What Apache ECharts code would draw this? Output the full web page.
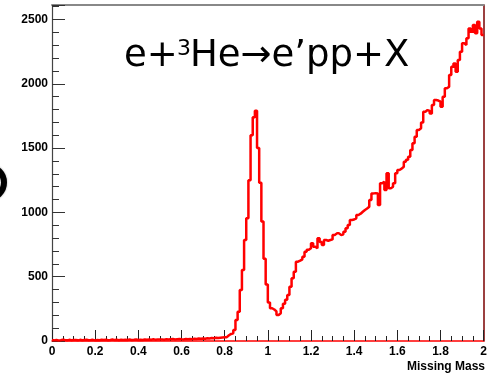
<!DOCTYPE html>
<html>
<head>
<meta charset="utf-8">
<script src="https://cdn.jsdelivr.net/npm/echarts@6/dist/echarts.min.js"></script>
<style>
  html, body { margin: 0; padding: 0; background: #fff; }
  #chart { width: 490px; height: 377px; }
</style>
</head>
<body>
<div id="chart"></div>
<script>
// Missing-mass histogram: 200 bins of width 0.01 from 0 to 2
const binWidth = 0.01;
const xMin = 0;
const xMax = 2;
const yMax = 2613;
const xTickStep = 0.2;
const yTickStep = 500;

const counts = [
  // 0.00 - 0.09
  5, 8, 4, 6, 10, 7, 5, 9, 6, 8,
  // 0.10 - 0.19
  7, 5, 9, 6, 8, 10, 6, 7, 9, 5,
  // 0.20 - 0.29
  8, 6, 10, 7, 9, 6, 8, 11, 7, 9,
  // 0.30 - 0.39
  6, 9, 7, 10, 8, 11, 7, 9, 12, 8,
  // 0.40 - 0.49
  10, 8, 12, 9, 11, 10, 13, 9, 12, 11,
  // 0.50 - 0.59
  12, 10, 14, 11, 13, 15, 12, 14, 16, 13,
  // 0.60 - 0.69
  12, 15, 13, 16, 14, 18, 16, 19, 17, 20,
  // 0.70 - 0.79
  18, 22, 20, 24, 21, 25, 23, 26, 28, 30,
  // 0.80 - 0.89
  30, 45, 55, 60, 85, 163, 228, 396, 552, 785,
  // 0.90 - 0.99
  954, 1250, 1600, 1740, 1790, 1500, 1230, 930, 640, 440,
  // 1.00 - 1.09
  300, 255, 245, 230, 202, 215, 254, 290, 320, 358,
  // 1.10 - 1.19
  422, 488, 539, 617, 625, 635, 656, 694, 710, 721,
  // 1.20 - 1.29
  760, 733, 721, 799, 770, 747, 785, 780, 785, 790,
  // 1.30 - 1.39
  824, 837, 837, 824, 830, 850, 876, 902, 941, 945,
  // 1.40 - 1.49
  954, 980, 990, 1005, 1019, 1030, 1044, 1096, 1148, 1150,
  // 1.50 - 1.59
  1148, 1057, 1226, 1239, 1174, 1304, 1187, 1200, 1226, 1304,
  // 1.60 - 1.69
  1330, 1340, 1355, 1394, 1410, 1433, 1485, 1537, 1589, 1641,
  // 1.70 - 1.79
  1654, 1700, 1783, 1796, 1790, 1770, 1835, 1874, 1870, 1861,
  // 1.80 - 1.89
  1822, 1900, 1965, 1978, 2068, 2133, 2159, 2094, 2185, 2250,
  // 1.90 - 1.99
  2315, 2302, 2354, 2430, 2405, 2457, 2393, 2483, 2430, 2380
];

const titleMain = 'e+';
const titleSup = '3';
const titleRest = 'He\u2192e\u2019pp+X';
const xAxisTitle = 'Missing Mass';

// Each bin drawn from its low edge; the last point closes the final bin
const histData = counts.map((c, i) => [+(xMin + i * binWidth).toFixed(4), c]);
histData.push([xMax, counts[counts.length - 1]]);

const labelFont = {
  fontFamily: '"Liberation Sans", Arial, sans-serif',
  fontWeight: 'bold',
  fontSize: 12,
  color: '#000'
};
const plainNumber = v => String(+v.toFixed(2));

const chart = echarts.init(document.getElementById('chart'), null, { renderer: 'canvas' });

chart.setOption({
  animation: false,
  backgroundColor: '#fff',
  grid: { left: 52, right: 6, top: 5, bottom: 36, containLabel: false },
  xAxis: [
    {
      type: 'value',
      min: xMin,
      max: xMax,
      interval: xTickStep,
      position: 'bottom',
      axisLine: { show: true, onZero: false, lineStyle: { color: '#ff0000', width: 1.5 } },
      axisTick: { show: true, inside: true, length: 11, lineStyle: { color: '#222', width: 1 } },
      minorTick: { show: true, splitNumber: 4, length: 5, lineStyle: { color: '#222', width: 1 } },
      axisLabel: Object.assign({ margin: 5, formatter: plainNumber }, labelFont),
      splitLine: { show: false }
    },
    {
      type: 'value',
      min: xMin,
      max: xMax,
      position: 'top',
      axisLine: { show: true, onZero: false, lineStyle: { color: '#888', width: 2 } },
      axisTick: { show: false },
      axisLabel: { show: false },
      splitLine: { show: false }
    }
  ],
  yAxis: [
    {
      type: 'value',
      min: 0,
      max: yMax,
      interval: yTickStep,
      position: 'left',
      axisLine: { show: true, onZero: false, lineStyle: { color: '#444', width: 1.2 } },
      axisTick: { show: true, inside: true, length: 13, lineStyle: { color: '#333', width: 1 } },
      minorTick: { show: true, splitNumber: 5, length: 7, lineStyle: { color: '#333', width: 1 } },
      axisLabel: Object.assign({ margin: 4, showMaxLabel: false, formatter: plainNumber }, labelFont),
      splitLine: { show: false }
    },
    {
      type: 'value',
      min: 0,
      max: yMax,
      position: 'right',
      axisLine: { show: true, onZero: false, lineStyle: { color: '#7a0000', width: 1.5 } },
      axisTick: { show: false },
      axisLabel: { show: false },
      splitLine: { show: false }
    }
  ],
  series: [
    {
      type: 'line',
      xAxisIndex: 0,
      yAxisIndex: 0,
      data: histData,
      step: 'end',
      showSymbol: false,
      clip: true,
      lineStyle: { color: '#ff0000', width: 2.5 },
      z: 5
    }
  ],
  graphic: [
    {
      type: 'text',
      left: 124,
      top: 38,
      style: { text: titleMain, font: '37px "DejaVu Sans", Verdana, sans-serif', fill: '#000' }
    },
    {
      type: 'text',
      left: 177,
      top: 38,
      style: { text: titleSup, font: '22px "DejaVu Sans", Verdana, sans-serif', fill: '#000' }
    },
    {
      type: 'text',
      left: 190,
      top: 38,
      style: { text: titleRest, font: '37px "DejaVu Sans", Verdana, sans-serif', fill: '#000' }
    },
    {
      type: 'text',
      right: 5,
      top: 361,
      style: {
        text: xAxisTitle,
        font: 'bold 12px "Liberation Sans", Arial, sans-serif',
        fill: '#000'
      }
    },
    {
      type: 'circle',
      shape: { cx: -12, cy: 182.5, r: 16 },
      style: { fill: 'none', stroke: '#000', lineWidth: 6, shadowBlur: 2, shadowColor: 'rgba(0,0,0,0.4)' }
    }
  ]
});
</script>
</body>
</html>
